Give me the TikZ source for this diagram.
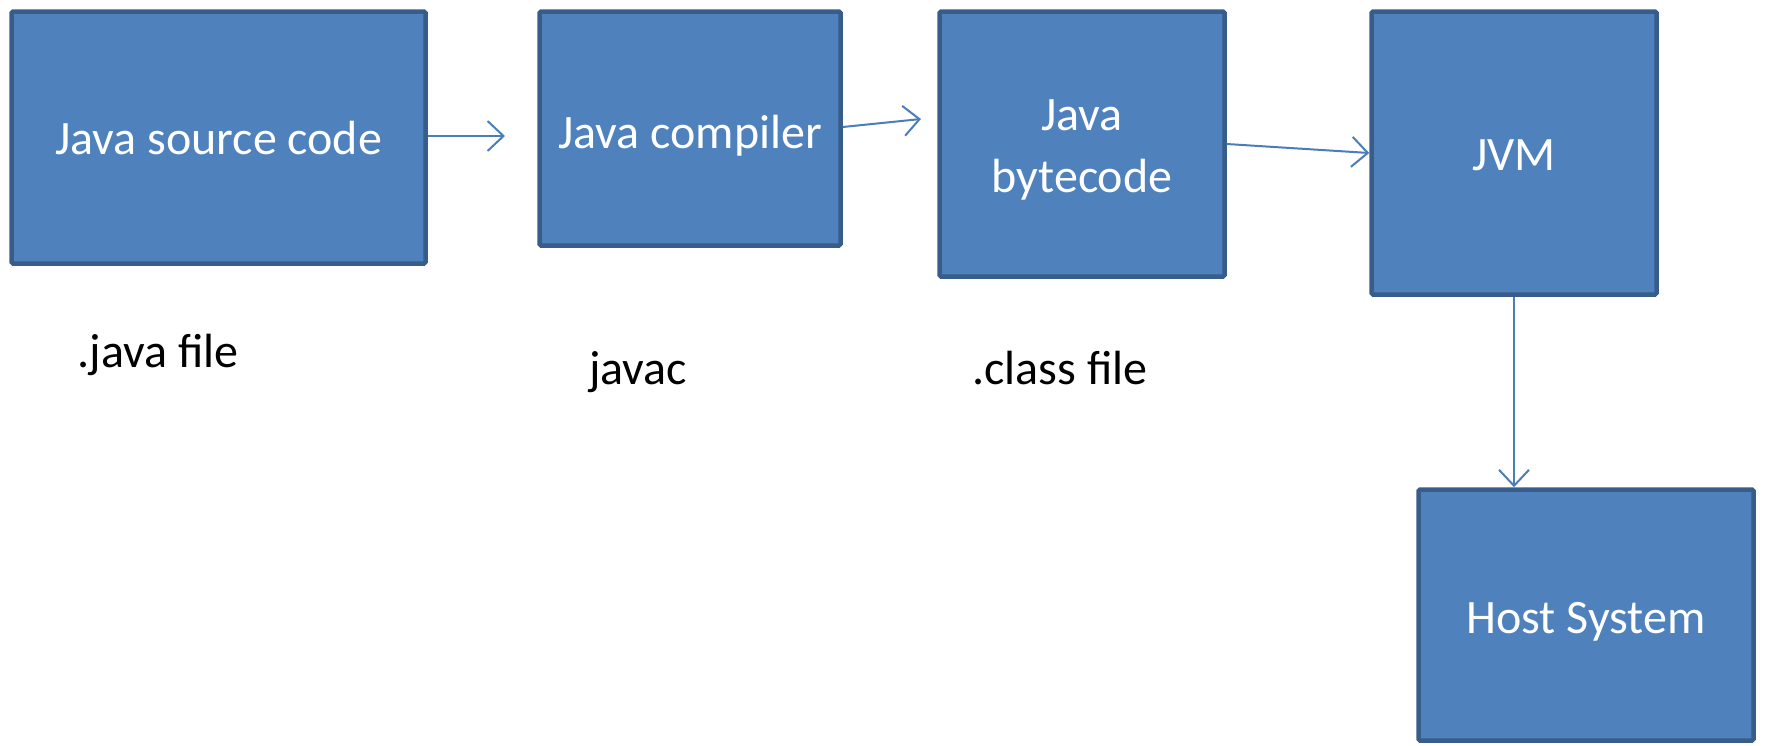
\documentclass[tikz,border=0pt]{standalone}
\usepackage{fontspec}
\setmainfont{Carlito}
\usetikzlibrary{arrows.meta}
\definecolor{boxfill}{HTML}{4F81BD}
\definecolor{boxline}{HTML}{385D8A}
\definecolor{arrowc}{HTML}{4A7EBB}
\tikzset{
  blockbox/.style={draw=boxline, fill=boxfill, line width=4.5pt, rounded corners=1.5pt, inner sep=0pt},
  boxtext/.style={text=white, font=\fontsize{48}{62}\selectfont, align=center, inner sep=0pt},
  flowarrow/.style={draw=arrowc, line width=2pt, -{Straight Barb[length=16pt,width=30pt,line width=2pt]}},
  caption/.style={font=\fontsize{48}{58}\selectfont, text=black, inner sep=0pt}
}
\begin{document}
\begin{tikzpicture}[x=1pt,y=-1pt]
\useasboundingbox (0,0) rectangle (1765,745);
\node[blockbox, minimum width=414pt, minimum height=252pt] (src) at (218.5,137.5) {};
\node[blockbox, minimum width=301pt, minimum height=234pt] (comp) at (690,128.5) {};
\node[blockbox, minimum width=285pt, minimum height=265pt] (byte) at (1082,144) {};
\node[blockbox, minimum width=285pt, minimum height=283pt] (jvm) at (1514,153) {};
\node[blockbox, minimum width=335pt, minimum height=251pt] (host) at (1586,615) {};
\node[boxtext] (tsrc) at ([yshift=-1pt]src.center) {Java source code};
\node[boxtext] (tcomp) at ([yshift=-7pt]comp.center) {Java compiler};
\node[boxtext] (tbyte) at ([yshift=-6pt]byte.center) {Java\\bytecode};
\node[boxtext] (tjvm) at ([yshift=-2pt]jvm.center) {JVM};
\node[boxtext] (thost) at ([yshift=-7pt]host.center) {Host System};
\node[caption] (l1) at (158,355) {.java file};
\node[caption] (l2) at (638,372) {javac};
\node[caption] (l3) at (1060,368) {.class file};
\coordinate (e1) at (505,136);
\coordinate (s2) at (843,127);
\coordinate (e2) at (921,119);
\coordinate (s3) at (1227,144);
\coordinate (e3) at (1369,153);
\draw[flowarrow] (src.east |- e1) -- (e1);
\draw[flowarrow] (comp.east |- s2) -- (e2);
\draw[flowarrow] (byte.east |- s3) -- (jvm.west |- e3);
\draw[flowarrow] (jvm.south) -- (host.north -| jvm.south);
\end{tikzpicture}
\end{document}
